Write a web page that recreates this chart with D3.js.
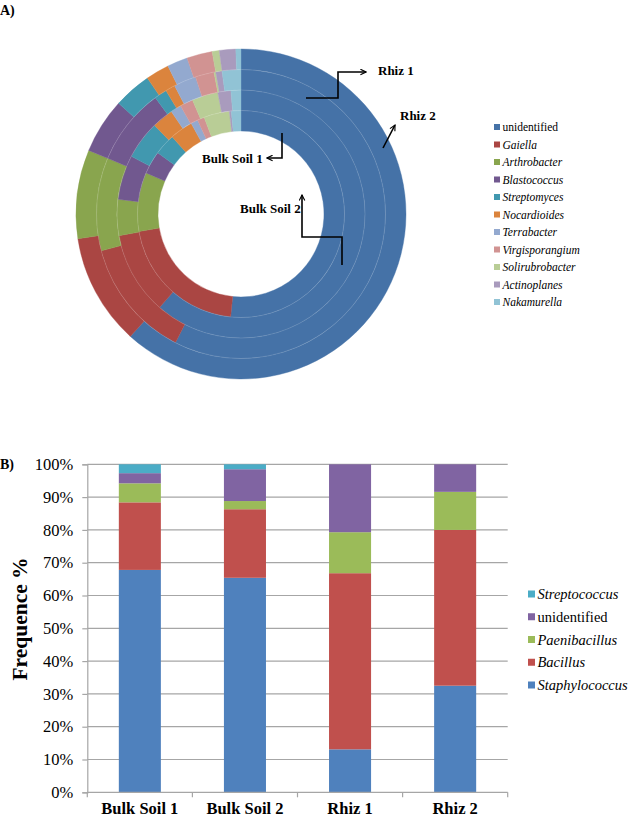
<!DOCTYPE html>
<html>
<head>
<meta charset="utf-8">
<script src="https://cdn.jsdelivr.net/npm/d3@7"></script>
<style>
  body { margin: 0; background: #fff; }
  svg text { font-family: "Liberation Serif", "Times New Roman", serif; fill: #000; }
</style>
</head>
<body>
<div id="chart"></div>
<script>
// ---- panel A : genus composition (doughnut, % of reads) ----
var genera = ["unidentified", "Gaiella", "Arthrobacter", "Blastococcus", "Streptomyces",
              "Nocardioides", "Terrabacter", "Virgisporangium", "Solirubrobacter",
              "Actinoplanes", "Nakamurella"];
var generaColors = ["#4572a7", "#aa4643", "#89a54e", "#71588f", "#4198af", "#db843d",
                    "#93a9cf", "#d19392", "#b9cd96", "#a99bbd", "#91c3d5"];
var ringNames = ["Bulk Soil 1", "Bulk Soil 2", "Rhiz 1", "Rhiz 2"];   // inner -> outer
var bulkSoil1 = [51.6, 20.7, 9.2, 3.6, 3.3, 3.6, 1.1, 1.1, 4.0, 0.3, 1.5];
var bulkSoil2 = [61.4, 10.8, 4.7, 5.8, 5.0, 2.8, 1.4, 1.7, 3.4, 1.7, 1.3];
var rhiz1     = [57.5, 13.4, 10.4, 8.6, 1.4, 1.1, 2.5, 2.1, 0.2, 0.7, 2.1];
var rhiz2     = [61.7, 10.9, 8.7, 5.4, 3.7, 2.3, 2.0, 2.5, 0.7, 1.6, 0.5];

// ---- panel B : stacked % bars ----
var samples = ["Bulk Soil 1", "Bulk Soil 2", "Rhiz 1", "Rhiz 2"];
var barGenera = ["Staphylococcus", "Bacillus", "Paenibacillus", "unidentified", "Streptococcus"];
var barColors = ["#4f81bd", "#c0504d", "#9bbb59", "#8064a2", "#4bacc6"];
var staphylococcus = [67.8, 65.4, 13.1, 32.5];
var bacillus       = [20.6, 20.9, 53.7, 47.5];
var paenibacillus  = [5.8, 2.5, 12.5, 11.6];
var unidentifiedB  = [3.1, 9.7, 20.7, 8.4];
var streptococcus  = [2.7, 1.5, 0, 0];
var yTicks = [0, 10, 20, 30, 40, 50, 60, 70, 80, 90, 100];

var serif = "'Liberation Serif', 'Times New Roman', serif";
var W = 628, H = 817;
var svg = d3.select("#chart").append("svg")
  .attr("width", W).attr("height", H);

svg.append("defs").append("marker")
  .attr("id", "arr")
  .attr("viewBox", "0 0 10 10")
  .attr("refX", 9).attr("refY", 5)
  .attr("markerWidth", 7).attr("markerHeight", 7)
  .attr("markerUnits", "userSpaceOnUse")
  .attr("orient", "auto")
  .append("path")
  .attr("d", "M1,1 L9,5 L1,9")
  .attr("fill", "none").attr("stroke", "#000").attr("stroke-width", 1.6);

// ===================== A) doughnut =====================
svg.append("text").attr("x", 0).attr("y", 15)
  .style("font-family", serif)
  .style("font-size", "14px").style("font-weight", "bold").text("A)");

var cx = 241, cy = 214, rIn = 83, rOut = 165;
var ringW = (rOut - rIn) / ringNames.length;
var rings = [bulkSoil1, bulkSoil2, rhiz1, rhiz2];

var pie = d3.pie().sort(null).value(function(d) { return d; });
var gA = svg.append("g").attr("transform", "translate(" + cx + "," + cy + ")");

rings.forEach(function(vals, k) {
  var arc = d3.arc().innerRadius(rIn + k * ringW).outerRadius(rIn + (k + 1) * ringW);
  gA.append("g").attr("class", "ring")
    .selectAll("path")
    .data(pie(vals))
    .enter().append("path")
    .attr("d", arc)
    .attr("fill", function(d, i) { return generaColors[i]; })
    .attr("stroke", function(d, i) { return generaColors[i]; })
    .attr("stroke-width", 0.4);
});
// faint separators between rings
d3.range(1, ringNames.length).forEach(function(k) {
  gA.append("circle").attr("r", rIn + k * ringW)
    .attr("fill", "none").attr("stroke", "#fff")
    .attr("stroke-opacity", 0.18).attr("stroke-width", 0.8);
});

// ring callouts (relative to doughnut centre)
var callouts = [
  { name: "Rhiz 1", tx: 137, ty: -139, pts: [[65, -116], [97, -116], [97, -142], [125, -142]] },
  { name: "Rhiz 2", tx: 159, ty: -94, pts: [[142, -66], [154, -89]] },
  { name: "Bulk Soil 1", tx: -39, ty: -51, pts: [[41, -81], [41, -56], [26, -56]] },
  { name: "Bulk Soil 2", tx: -1, ty: -1, pts: [[101, 51], [101, 23], [61, 23], [61, -19]] }
];
callouts.forEach(function(c) {
  gA.append("path")
    .attr("d", d3.line()(c.pts))
    .attr("fill", "none").attr("stroke", "#000").attr("stroke-width", 1.6)
    .attr("marker-end", "url(#arr)");
  gA.append("text").attr("x", c.tx).attr("y", c.ty)
    .style("font-family", serif)
    .style("font-size", "13px").style("font-weight", "bold").text(c.name);
});

// legend A
var legA = svg.append("g").attr("transform", "translate(494,127)");
var la = legA.selectAll("g").data(genera).enter().append("g")
  .attr("transform", function(d, i) { return "translate(0," + (i * 17.5) + ")"; });
la.append("rect").attr("x", 0).attr("y", -3).attr("width", 6).attr("height", 6)
  .attr("fill", function(d, i) { return generaColors[i]; });
la.append("text").attr("x", 8.5).attr("dy", "0.35em")
  .style("font-family", serif)
  .style("font-size", "11.5px")
  .style("font-style", function(d) { return d === "unidentified" ? "normal" : "italic"; })
  .text(function(d) { return d; });

// ===================== B) stacked bars =====================
svg.append("text").attr("x", 0).attr("y", 469)
  .style("font-family", serif)
  .style("font-size", "14px").style("font-weight", "bold").text("B)");

var x0 = 87.3, x1 = 507.7, yBot = 792.3, yTop = 464.3;
var x = d3.scaleBand().domain(samples).range([x0, x1]).padding(0);
var y = d3.scaleLinear().domain([0, 100]).range([yBot, yTop]);
var barW = x.bandwidth() * 0.4;

var seriesVals = [staphylococcus, bacillus, paenibacillus, unidentifiedB, streptococcus];
var table = samples.map(function(s, i) {
  var row = { sample: s };
  barGenera.forEach(function(g, k) { row[g] = seriesVals[k][i]; });
  return row;
});
var stacked = d3.stack().keys(barGenera)(table);

// gridlines
svg.append("g").selectAll("line")
  .data(yTicks.filter(function(t) { return t > 0; }))
  .enter().append("line")
  .attr("x1", x0).attr("x2", x1)
  .attr("y1", function(d) { return y(d); }).attr("y2", function(d) { return y(d); })
  .attr("stroke", "#a6a6a6").attr("stroke-width", 1.2);

svg.append("g").selectAll("g")
  .data(stacked).enter().append("g")
  .attr("fill", function(d, i) { return barColors[i]; })
  .selectAll("rect")
  .data(function(d) { return d; })
  .enter().append("rect")
  .attr("x", function(d) { return x(d.data.sample) + (x.bandwidth() - barW) / 2; })
  .attr("width", barW)
  .attr("y", function(d) { return y(d[1]); })
  .attr("height", function(d) { return y(d[0]) - y(d[1]); });

// y axis
var yAxis = svg.append("g").attr("transform", "translate(" + x0 + ",0)")
  .call(d3.axisLeft(y).tickValues(yTicks).tickSize(5).tickPadding(9)
    .tickFormat(function(d) { return d + "%"; }));
yAxis.select(".domain").attr("stroke", "#a6a6a6").attr("stroke-width", 1.2);
yAxis.selectAll(".tick line").attr("stroke", "#a6a6a6").attr("stroke-width", 1.2);
yAxis.selectAll("text").style("font-size", "16.5px").style("font-family", serif);

// x axis
var xAxis = svg.append("g").attr("transform", "translate(0," + yBot + ")");
xAxis.append("line").attr("x1", x0).attr("x2", x1)
  .attr("stroke", "#a6a6a6").attr("stroke-width", 1.2);
xAxis.selectAll("line.tk")
  .data(samples.map(function(s) { return x(s); }).concat([x1]))
  .enter().append("line").attr("class", "tk")
  .attr("x1", function(d) { return d; }).attr("x2", function(d) { return d; })
  .attr("y1", 0).attr("y2", 5)
  .attr("stroke", "#a6a6a6").attr("stroke-width", 1.2);
xAxis.selectAll("text").data(samples).enter().append("text")
  .attr("x", function(d) { return x(d) + x.bandwidth() / 2; })
  .attr("y", 22)
  .attr("text-anchor", "middle")
  .style("font-family", serif)
  .style("font-size", "16.5px").style("font-weight", "bold")
  .text(function(d) { return d; });

svg.append("text")
  .attr("transform", "translate(27,619) rotate(-90)")
  .attr("text-anchor", "middle")
  .style("font-family", serif)
  .style("font-size", "21.5px").style("font-weight", "bold")
  .text("Frequence %");

// legend B (top item = last series)
var legB = svg.append("g").attr("transform", "translate(528,594)");
var lb = legB.selectAll("g").data(barGenera.slice().reverse()).enter().append("g")
  .attr("transform", function(d, i) { return "translate(0," + (i * 22.75) + ")"; });
lb.append("rect").attr("x", 0).attr("y", -3.5).attr("width", 7).attr("height", 7)
  .attr("fill", function(d) { return barColors[barGenera.indexOf(d)]; });
lb.append("text").attr("x", 9.5).attr("dy", "0.35em")
  .style("font-family", serif)
  .style("font-size", "14.5px")
  .style("font-style", function(d) { return d === "unidentified" ? "normal" : "italic"; })
  .text(function(d) { return d; });
</script>
</body>
</html>
